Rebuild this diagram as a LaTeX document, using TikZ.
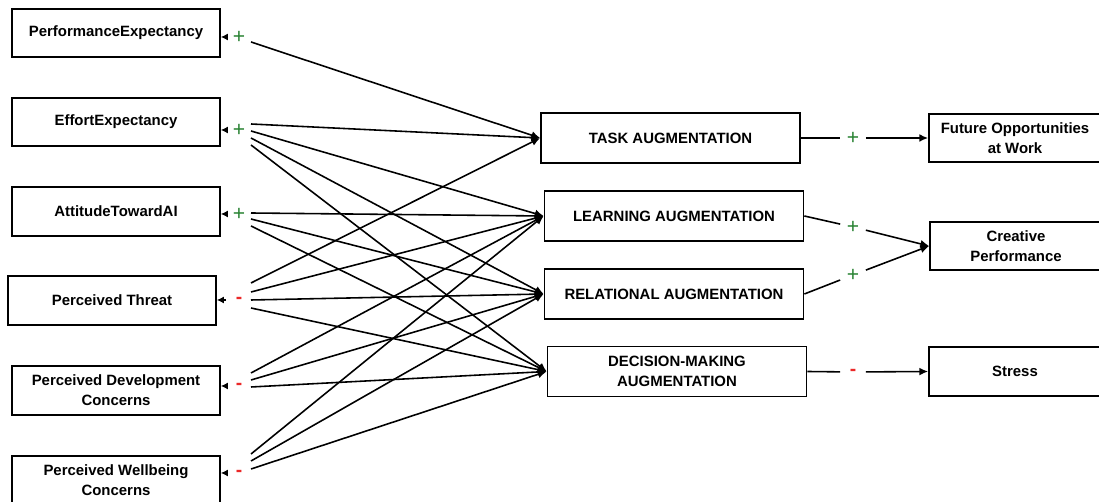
\documentclass[tikz,border=0pt]{standalone}
\usepackage{fontspec}
\setmainfont{Liberation Sans}
\usetikzlibrary{arrows.meta}
\definecolor{pgreen}{RGB}{40,130,50}
\definecolor{nred}{RGB}{235,40,40}
\begin{document}
\begin{tikzpicture}[x=0.02cm,y=-0.02cm,
  box/.style={draw,line width=1pt,font=\fontsize{8.5}{10.5}\selectfont\bfseries,align=center,inner sep=0pt,minimum height=0.97cm},
  lbox/.style={box,minimum width=4.16cm},
  mbox/.style={box,minimum width=5.18cm,minimum height=1.0cm},
  rbox/.style={box,minimum width=3.44cm},
  con/.style={line width=0.9pt,-{Latex[length=5pt,width=4.5pt]}},
  plain/.style={line width=0.9pt},
  stub/.style={line width=0.7pt,-{Latex[length=4pt,width=4pt]}},
  posign/.style={text=pgreen,font=\fontsize{12}{12}\selectfont,inner sep=0pt,minimum width=0.5cm,minimum height=0.45cm},
  negsign/.style={text=nred,font=\fontsize{11}{11}\selectfont\bfseries,inner sep=0pt,minimum width=0.5cm,minimum height=0.45cm}]
\useasboundingbox (0,0) rectangle (1099,502);
\clip (0,0) rectangle (1099,502);
% left boxes
\node[lbox] (pe) at (116,33) {PerformanceExpectancy};
\node[lbox] (ee) at (116,122) {EffortExpectancy};
\node[lbox] (at) at (116,211.5) {AttitudeTowardAI};
\node[lbox] (pt) at (112,300.5) {Perceived Threat};
\node[lbox] (pd) at (116,390.5) {Perceived Development\\[1pt]Concerns};
\node[lbox] (pw) at (116,480) {Perceived Wellbeing\\[1pt]Concerns};
% middle boxes
\node[mbox] (task) at (670.5,138) {TASK AUGMENTATION};
\node[mbox] (learn) at (674,216) {LEARNING AUGMENTATION};
\node[mbox] (rel) at (674,294) {RELATIONAL AUGMENTATION};
\node[mbox] (dec) at (677,371.5) {DECISION-MAKING\\[1pt]AUGMENTATION};
% right boxes
\node[rbox] (fut) at (1015,138) {Future Opportunities\\[1pt]at Work};
\node[rbox] (cre) at (1016,246) {Creative\\[1pt]Performance};
\node[rbox] (str) at (1015,371.5) {Stress};
% left signs
\node[posign] (spe) at (239,37) {+};
\node[posign] (see) at (239,130) {+};
\node[posign] (sat) at (239,214) {+};
\node[negsign] (spt) at (239,300) {-};
\node[negsign] (spd) at (239,386) {-};
\node[negsign] (spw) at (239,473) {-};
\foreach \s/\b in {spe/pe,see/ee,sat/at,spt/pt,spd/pd,spw/pw}
  \draw[stub] (\s.west) -- (\s.west -| \b.east);
% start points
\coordinate (pe1) at (251,42);
\coordinate (ee1) at (251,124);
\coordinate (ee2) at (251,131);
\coordinate (ee3) at (251,138);
\coordinate (ee4) at (251,145);
\coordinate (at1) at (251,213);
\coordinate (at2) at (251,219);
\coordinate (at3) at (251,226);
\coordinate (pt1) at (251,283);
\coordinate (pt2) at (251,292);
\coordinate (pt3) at (251,300);
\coordinate (pt4) at (251,308);
\coordinate (pd1) at (251,373);
\coordinate (pd2) at (251,380);
\coordinate (pd3) at (251,387);
\coordinate (pw1) at (251,454);
\coordinate (pw2) at (251,461);
\coordinate (pw3) at (251,469);
% connectors
\draw[con] (pe1) -- (task.west);
\draw[con] (ee1) -- (task.west);
\draw[con] (ee2) -- (learn.west);
\draw[con] (ee3) -- (rel.west);
\draw[con] (ee4) -- (dec.west);
\draw[con] (at1) -- (learn.west);
\draw[con] (at2) -- (rel.west);
\draw[con] (at3) -- (dec.west);
\draw[con] (pt1) -- (task.west);
\draw[con] (pt2) -- (learn.west);
\draw[con] (pt3) -- (rel.west);
\draw[con] (pt4) -- (dec.west);
\draw[con] (pd1) -- (learn.west);
\draw[con] (pd2) -- (rel.west);
\draw[con] (pd3) -- (dec.west);
\draw[con] (pw1) -- (learn.west);
\draw[con] (pw2) -- (rel.west);
\draw[con] (pw3) -- (dec.west);
% right signs
\node[posign] (s1) at (853,138) {+};
\node[posign] (s2) at (853,227) {+};
\node[posign] (s3) at (853,275) {+};
\node[negsign] (s4) at (853,372) {-};
\draw[plain] (task.east) -- (s1);
\draw[con] (s1) -- (fut.west);
\draw[plain] (learn.east) -- (s2);
\draw[con] (s2) -- (cre.west);
\draw[plain] (rel.east) -- (s3);
\draw[con] (s3) -- (cre.west);
\draw[plain] (dec.east) -- (s4);
\draw[con] (s4) -- (str.west);
\end{tikzpicture}
\end{document}
